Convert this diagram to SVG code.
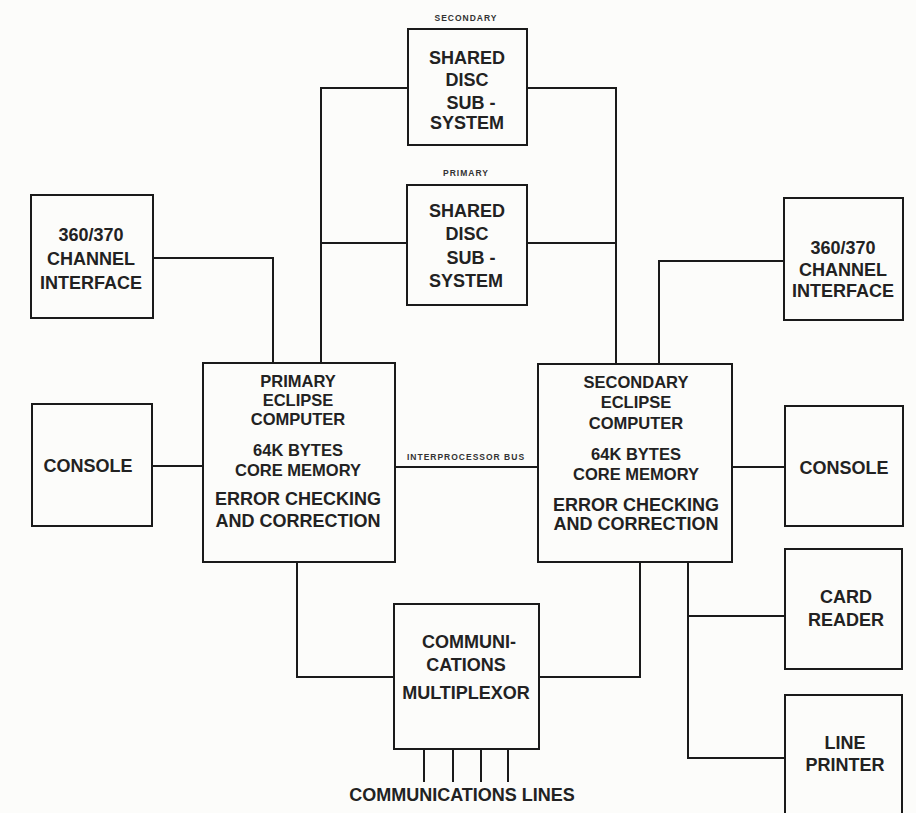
<svg xmlns="http://www.w3.org/2000/svg" width="916" height="813" viewBox="0 0 916 813">
<style>
.box{fill:none;stroke:#1a1a1a;stroke-width:2}
.ln{fill:none;stroke:#1a1a1a;stroke-width:2}
.t{font-family:"Liberation Sans",Arial,sans-serif;font-weight:bold;font-size:18px;fill:#222;text-anchor:middle}
.c{font-family:"Liberation Sans",Arial,sans-serif;font-weight:bold;font-size:16.5px;fill:#222;text-anchor:middle}
.s{font-family:"Liberation Sans",Arial,sans-serif;font-weight:bold;font-size:8.5px;fill:#333;text-anchor:middle;letter-spacing:1px}
</style>
<rect width="916" height="813" fill="#fcfcfa"/>
<g id="connectors">
<polyline class="ln" points="408,88 321,88 321,364"/>
<line class="ln" x1="321" y1="243" x2="407" y2="243"/>
<polyline class="ln" points="527,88 616,88 616,364"/>
<line class="ln" x1="527" y1="243" x2="616" y2="243"/>
<polyline class="ln" points="153,258 273,258 273,364"/>
<polyline class="ln" points="784,261 659,261 659,364"/>
<line class="ln" x1="152" y1="466" x2="203" y2="466"/>
<line class="ln" x1="395" y1="467" x2="538" y2="467"/>
<line class="ln" x1="732" y1="467" x2="785" y2="467"/>
<polyline class="ln" points="297,562 297,677 394,677"/>
<polyline class="ln" points="640,562 640,677 539,677"/>
<polyline class="ln" points="688,562 688,758 785,758"/>
<line class="ln" x1="688" y1="616" x2="785" y2="616"/>
<line class="ln" x1="424" y1="749" x2="424" y2="782"/>
<line class="ln" x1="453" y1="749" x2="453" y2="782"/>
<line class="ln" x1="481" y1="749" x2="481" y2="782"/>
<line class="ln" x1="508" y1="749" x2="508" y2="782"/>
</g>
<g id="disc-secondary">
<text class="s" x="466" y="21">SECONDARY</text>
<rect class="box" x="408" y="29" width="119" height="116"/>
<text class="t" x="467" y="64">SHARED</text>
<text class="t" x="467" y="86">DISC</text>
<text class="t" x="471" y="109">SUB -</text>
<text class="t" x="467" y="129">SYSTEM</text>
</g>
<g id="disc-primary">
<text class="s" x="466" y="176">PRIMARY</text>
<rect class="box" x="407" y="185" width="120" height="120"/>
<text class="t" x="467" y="217">SHARED</text>
<text class="t" x="467" y="240">DISC</text>
<text class="t" x="471" y="264">SUB -</text>
<text class="t" x="466" y="287">SYSTEM</text>
</g>
<g id="channel-left">
<rect class="box" x="31" y="195" width="122" height="123"/>
<text class="t" x="91" y="241">360/370</text>
<text class="t" x="91" y="265">CHANNEL</text>
<text class="t" x="91" y="289">INTERFACE</text>
</g>
<g id="channel-right">
<rect class="box" x="784" y="198" width="119" height="122"/>
<text class="t" x="843" y="254">360/370</text>
<text class="t" x="843" y="276">CHANNEL</text>
<text class="t" x="843" y="297">INTERFACE</text>
</g>
<g id="primary-computer">
<rect class="box" x="203" y="363" width="192" height="199"/>
<text class="c" x="298" y="387">PRIMARY</text>
<text class="c" x="298" y="406">ECLIPSE</text>
<text class="c" x="298" y="425">COMPUTER</text>
<text class="c" x="298" y="456">64K BYTES</text>
<text class="c" x="298" y="476">CORE MEMORY</text>
<text class="t" x="298" y="505">ERROR CHECKING</text>
<text class="t" x="298" y="527">AND CORRECTION</text>
</g>
<g id="bus-label">
<text class="s" x="466" y="460">INTERPROCESSOR BUS</text>
</g>
<g id="secondary-computer">
<rect class="box" x="538" y="364" width="194" height="198"/>
<text class="c" x="636" y="388">SECONDARY</text>
<text class="c" x="636" y="408">ECLIPSE</text>
<text class="c" x="636" y="429">COMPUTER</text>
<text class="c" x="636" y="460">64K BYTES</text>
<text class="c" x="636" y="480">CORE MEMORY</text>
<text class="t" x="636" y="511">ERROR CHECKING</text>
<text class="t" x="636" y="530">AND CORRECTION</text>
</g>
<g id="console-left">
<rect class="box" x="32" y="404" width="120" height="122"/>
<text class="t" x="88" y="472">CONSOLE</text>
</g>
<g id="console-right">
<rect class="box" x="785" y="406" width="118" height="120"/>
<text class="t" x="844" y="474">CONSOLE</text>
</g>
<g id="card-reader">
<rect class="box" x="785" y="549" width="117" height="120"/>
<text class="t" x="846" y="603">CARD</text>
<text class="t" x="846" y="626">READER</text>
</g>
<g id="line-printer">
<rect class="box" x="785" y="695" width="117" height="130"/>
<text class="t" x="845" y="749">LINE</text>
<text class="t" x="845" y="771">PRINTER</text>
</g>
<g id="comms-mux">
<rect class="box" x="394" y="604" width="145" height="145"/>
<text class="t" x="469" y="648">COMMUNI-</text>
<text class="t" x="466" y="671">CATIONS</text>
<text class="t" x="466" y="699">MULTIPLEXOR</text>
</g>
<g id="comm-lines-label">
<text class="t" x="462" y="801">COMMUNICATIONS LINES</text>
</g>
</svg>
